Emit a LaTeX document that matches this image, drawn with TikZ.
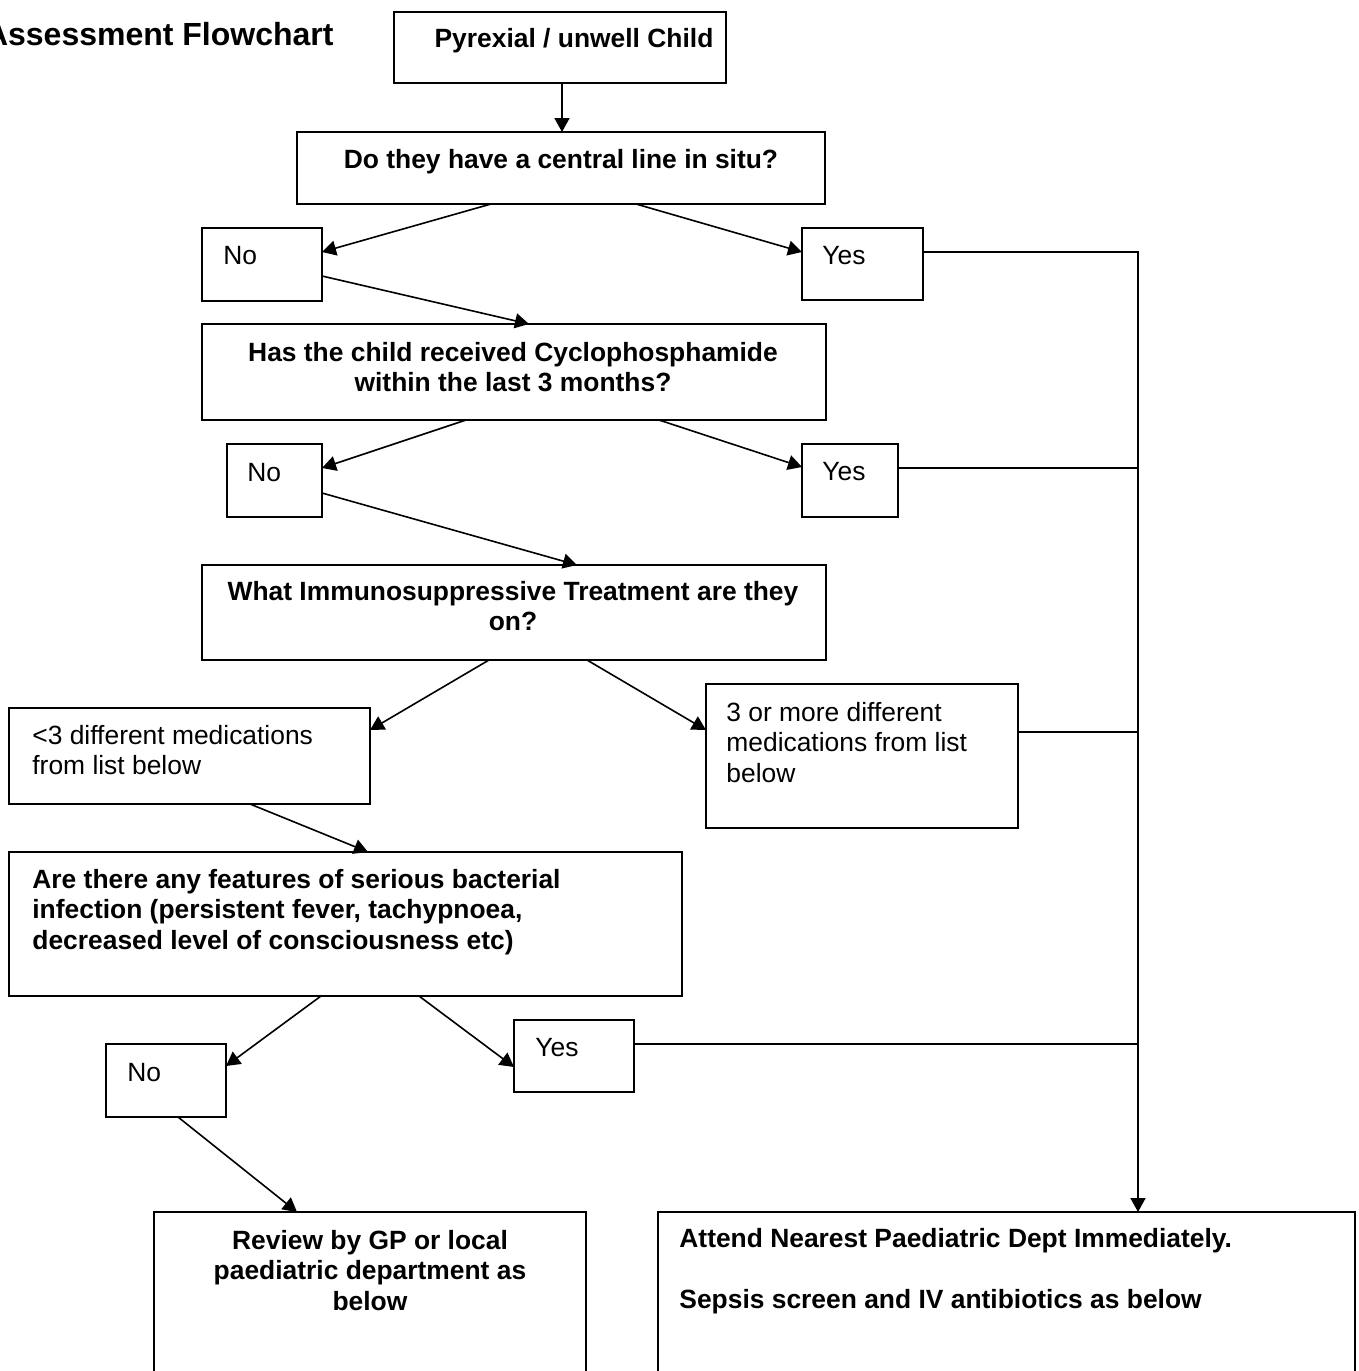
\documentclass[tikz,border=0pt]{standalone}
\usepackage{fontspec}
\setmainfont{Liberation Sans}
\usetikzlibrary{calc,arrows.meta}
\tikzset{
  box/.style={draw, line width=1pt, inner sep=0pt, outer sep=0pt},
  conn/.style={line width=0.8pt, -{Triangle[length=7pt,width=7.5pt]}},
  plain/.style={line width=0.8pt},
  txt/.style={inner sep=0pt, font=\fontsize{13.2pt}{15.25pt}\selectfont},
  btxt/.style={inner sep=0pt, font=\fontsize{13.2pt}{15.25pt}\selectfont\bfseries},
  ttl/.style={inner sep=0pt, font=\fontsize{16pt}{19pt}\selectfont\bfseries},
}
\newcommand\mkbox[5]{\node[box, anchor=north west, minimum width={(#4-#2)*0.5pt}, minimum height={(#5-#3)*0.5pt}] (#1) at (#2,#3) {};}
\begin{document}
\begin{tikzpicture}[x=0.5pt,y=-0.5pt]
\useasboundingbox (0,0) rectangle (1359,1371);
\clip (0,0) rectangle (1359,1371);

% boxes
\mkbox{A}{394}{12}{726}{83}
\mkbox{B}{297}{132}{825}{204}
\mkbox{No1}{202}{228}{322}{301}
\mkbox{Yes1}{802}{228}{923}{300}
\mkbox{C}{202}{324}{826}{420}
\mkbox{No2}{227}{444}{322}{517}
\mkbox{Yes2}{802}{444}{898}{517}
\mkbox{D}{202}{565}{826}{660}
\mkbox{L}{9}{708}{370}{804}
\mkbox{R}{706}{684}{1018}{828}
\mkbox{E}{9}{852}{682}{996}
\mkbox{No3}{106}{1044}{226}{1117}
\mkbox{Yes3}{514}{1020}{634}{1092}
\mkbox{F}{154}{1212}{586}{1385}
\mkbox{G}{658}{1212}{1355}{1385}

% texts (multi-line nodes: base anchor = baseline of last line)
\node[ttl, anchor=base east] (title) at (334,45) {Assessment Flowchart};
\node[btxt, anchor=base] (tA) at (574,47) {Pyrexial / unwell Child};
\node[btxt, anchor=base] (tB) at (561,168) {Do they have a central line in situ?};
\node[txt, anchor=base west] (tNo1) at (223,264) {No};
\node[txt, anchor=base west] (tYes1) at (822,264) {Yes};
\node[btxt, anchor=base, align=center] (tC) at (513,391.5) {Has the child received Cyclophosphamide\\within the last 3 months?};
\node[txt, anchor=base west] (tNo2) at (247,481) {No};
\node[txt, anchor=base west] (tYes2) at (822,480) {Yes};
\node[btxt, anchor=base, align=center] (tD) at (513,630.5) {What Immunosuppressive Treatment are they\\on?};
\node[txt, anchor=base west, align=left] (tL) at (32,774.5) {<3 different medications\\from list below};
\node[txt, anchor=base west, align=left] (tR) at (726,782) {3 or more different\\medications from list\\below};
\node[btxt, anchor=base west, align=left] (tE) at (32,949) {Are there any features of serious bacterial\\infection (persistent fever, tachypnoea,\\decreased level of consciousness etc)};
\node[txt, anchor=base west] (tNo3) at (127,1081) {No};
\node[txt, anchor=base west] (tYes3) at (535,1056) {Yes};
\node[btxt, anchor=base, align=center] (tF) at (370,1310) {Review by GP or local\\paediatric department as\\below};
\node[btxt, anchor=base west, align=left] (tG) at (679,1308) {Attend Nearest Paediatric Dept Immediately.\\[15.25pt]Sepsis screen and IV antibiotics as below};

% connectors
\draw[conn] ($(A.south west)+(168,0)$) -- ($(B.north west)+(265,0)$);
\draw[conn] ($(B.south west)+(194,0)$) -- ($(No1.north east)+(0,24)$);
\draw[conn] ($(B.south west)+(339,0)$) -- ($(Yes1.north west)+(0,24)$);
\draw[conn] ($(No1.north east)+(0,48)$) -- ($(C.north west)+(327,0)$);
\draw[conn] ($(C.south west)+(264,0)$) -- ($(No2.north east)+(0,24)$);
\draw[conn] ($(C.south west)+(457,0)$) -- ($(Yes2.north west)+(0,23)$);
\draw[conn] ($(No2.north east)+(0,49)$) -- ($(D.north west)+(375,0)$);
\draw[conn] ($(D.south west)+(287,0)$) -- ($(L.north east)+(0,22)$);
\draw[conn] ($(D.south west)+(385,0)$) -- ($(R.north west)+(0,46)$);
\draw[conn] ($(L.south west)+(241,0)$) -- ($(E.north west)+(359,0)$);
\draw[conn] ($(E.south west)+(312,0)$) -- ($(No3.north east)+(0,22)$);
\draw[conn] ($(E.south west)+(410,0)$) -- ($(Yes3.north west)+(0,47)$);
\draw[conn] ($(No3.south west)+(72,0)$) -- ($(F.north west)+(143,0)$);

\coordinate (trunk) at ($(G.north west)+(480,0)$);
\coordinate (y1) at ($(Yes1.north east)+(0,24)$);
\coordinate (y2) at ($(Yes2.north east)+(0,24)$);
\coordinate (r2) at ($(R.north east)+(0,48)$);
\coordinate (y3) at ($(Yes3.north east)+(0,24)$);
\draw[conn] (y1) -| (trunk);
\draw[plain] (y2) -- (y2 -| trunk);
\draw[plain] (r2) -- (r2 -| trunk);
\draw[plain] (y3) -- (y3 -| trunk);
\end{tikzpicture}
\end{document}
